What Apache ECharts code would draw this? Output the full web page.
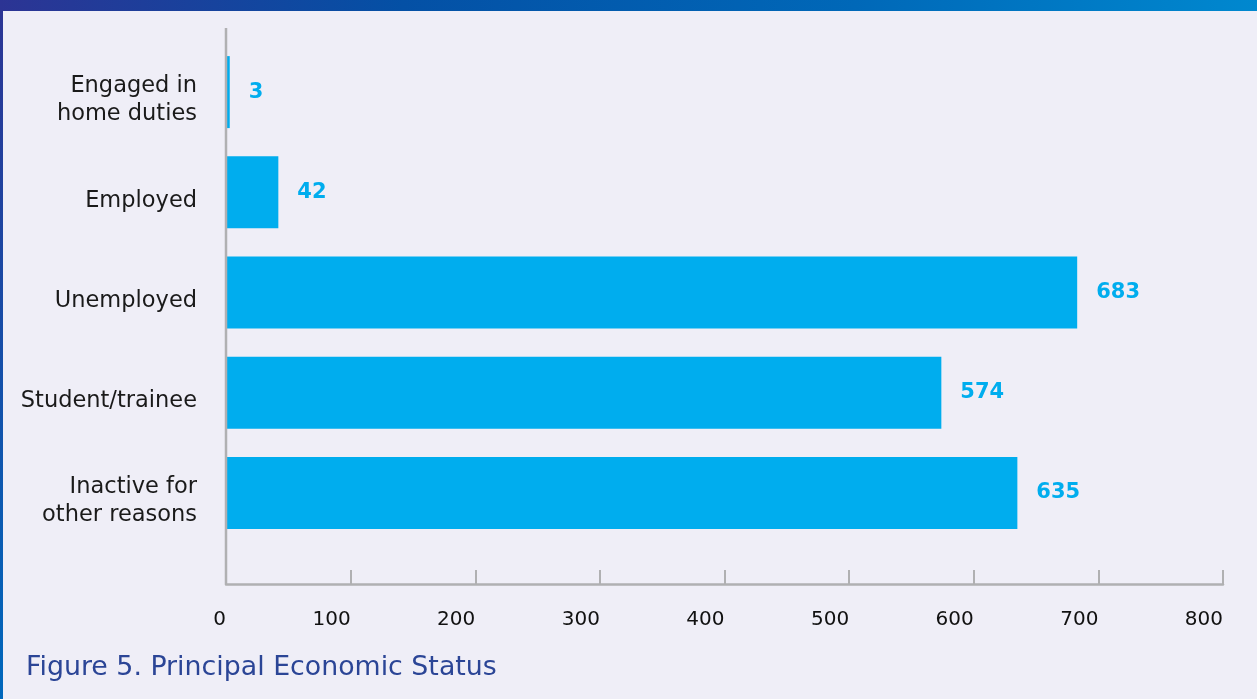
<!DOCTYPE html>
<html>
<head>
<meta charset="utf-8">
<script src="https://cdn.jsdelivr.net/npm/echarts@6/dist/echarts.min.js"></script>
<style>
  html, body { margin: 0; padding: 0; background: #efeef7; }
  #chart { width: 1257px; height: 699px; }
</style>
</head>
<body>
<div id="chart"></div>
<script>
// Principal economic status, counts per category (top to bottom)
const categories = [
  'Engaged in\nhome duties',
  'Employed',
  'Unemployed',
  'Student/trainee',
  'Inactive for\nother reasons'
];
const counts = [3, 42, 683, 574, 635];
const xTicks = { min: 0, max: 800, step: 100 };
const caption = 'Figure 5. Principal Economic Status';

const FONT = '"DejaVu Sans", "Open Sans", sans-serif';
const chart = echarts.init(document.getElementById('chart'), null, { renderer: 'canvas' });

// category names sit a little below the band centre: each line gets top padding
function categoryLabel(name) {
  return name.split('\n').map(line => '{cat|' + line + '}').join('\n');
}

chart.setOption({
  backgroundColor: '#efeef7',
  animation: false,
  title: {
    text: caption,
    left: 21,
    top: 650,
    textStyle: { fontFamily: FONT, fontSize: 26.8, fontWeight: 'normal', color: '#2b4596' }
  },
  graphic: [
    // header band
    {
      type: 'rect', left: 0, top: 0, z: 10,
      shape: { width: 1257, height: 11 },
      style: {
        fill: new echarts.graphic.LinearGradient(0, 0, 1, 0, [
          { offset: 0, color: '#2c3494' },
          { offset: 0.32, color: '#0450a5' },
          { offset: 0.68, color: '#0068b8' },
          { offset: 1, color: '#0088cf' }
        ])
      }
    },
    // left edge strip
    {
      type: 'rect', left: 0, top: 0, z: 9,
      shape: { width: 3, height: 699 },
      style: {
        fill: new echarts.graphic.LinearGradient(0, 0, 0, 1, [
          { offset: 0, color: '#2c3494' },
          { offset: 1, color: '#0068bc' }
        ])
      }
    },
    // category axis line, running past the bands down to the value axis
    {
      type: 'line', z: 5,
      shape: { x1: 226, y1: 28, x2: 226, y2: 584 },
      style: { stroke: '#b0b0b2', lineWidth: 2.5 }
    }
  ],
  grid: { left: 226, right: 34, top: 42, bottom: 156, containLabel: false },
  xAxis: {
    type: 'value',
    min: xTicks.min,
    max: xTicks.max,
    interval: xTicks.step,
    offset: 41,
    axisLine: { show: true, lineStyle: { color: '#b0b0b2', width: 2.5 } },
    axisTick: { show: true, inside: true, length: 14, lineStyle: { color: '#b0b0b2', width: 2 } },
    splitLine: { show: false },
    axisLabel: {
      fontFamily: FONT, fontSize: 20, color: '#111', margin: 26, align: 'right'
    }
  },
  yAxis: {
    type: 'category',
    data: categories,
    inverse: true,
    axisLine: { show: false },
    axisTick: { show: false },
    axisLabel: {
      margin: 29,
      align: 'right',
      formatter: categoryLabel,
      rich: {
        cat: { fontFamily: FONT, fontSize: 22.5, color: '#1a1a1a', lineHeight: 28, padding: [17, 0, 0, 0] }
      }
    }
  },
  series: [{
    type: 'bar',
    data: counts,
    barWidth: 72,
    itemStyle: { color: '#00adee' },
    label: {
      show: true,
      position: 'right',
      distance: 19,
      fontFamily: FONT,
      fontSize: 21,
      fontWeight: 'bold',
      color: '#00adee'
    }
  }]
});
</script>
</body>
</html>
